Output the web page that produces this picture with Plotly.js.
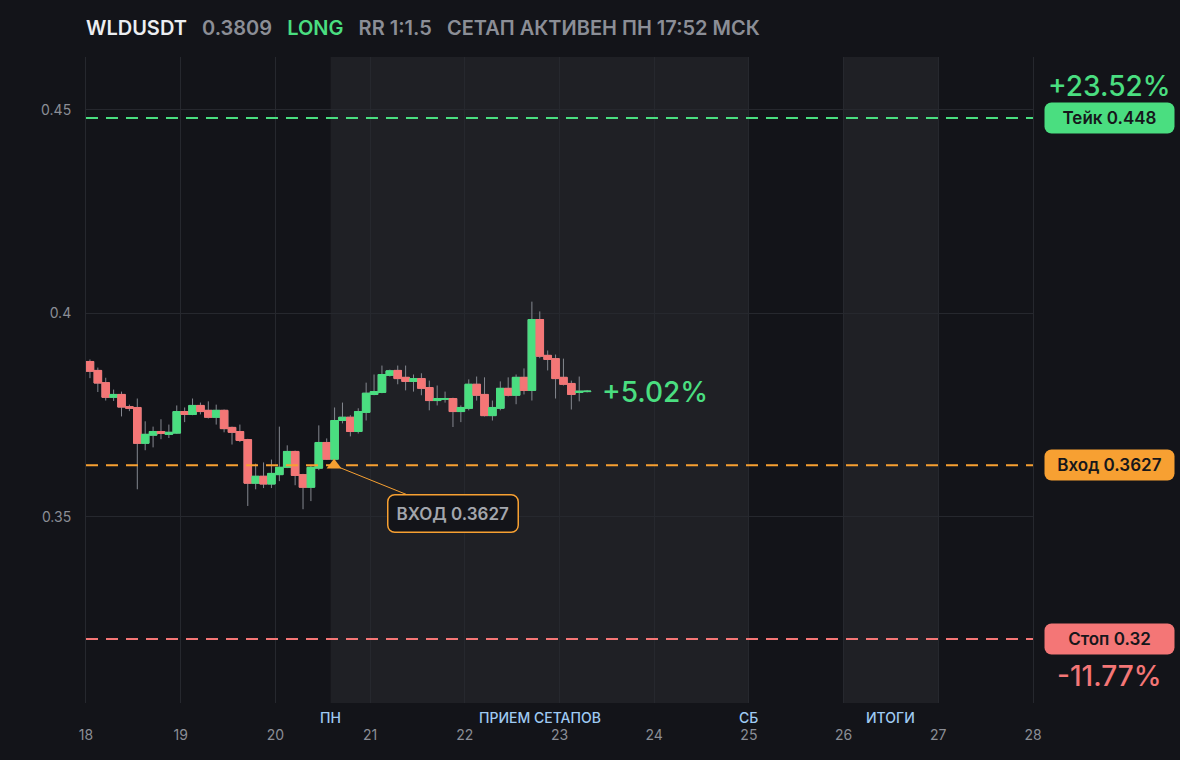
<!DOCTYPE html>
<html>
<head>
<meta charset="utf-8">
<script src="https://cdn.plot.ly/plotly-3.0.1.min.js"></script>
<style>
  html, body { margin: 0; padding: 0; background: #131419; }
  #chart { width: 1180px; height: 760px; }
</style>
</head>
<body>
<div id="chart"></div>
<script>
// ---------- DATA ----------
const symbol = "WLDUSDT";
const lastPrice = 0.3809;
const side = "LONG";
const rr = "RR 1:1.5";
const setupNote = "СЕТАП АКТИВЕН ПН 17:52 МСК";

const candleStart = "2025-10-18T01:00:00Z";   // centre of first 2h candle
const candleStepHours = 2;

const opens = [0.3882,0.3860,0.3830,0.3794,0.3801,0.3771,0.3769,0.3681,0.3701,0.3710,0.3703,0.3706,0.3759,0.3752,0.3774,0.3762,
               0.3745,0.3762,0.3720,0.3710,0.3690,0.3583,0.3600,0.3581,0.3604,0.3622,0.3661,0.3604,0.3573,0.3620,0.3683,0.3642,
               0.3737,0.3745,0.3710,0.3757,0.3801,0.3806,0.3848,0.3860,0.3843,0.3833,0.3840,0.3818,0.3786,0.3789,0.3791,0.3759,
               0.3767,0.3826,0.3801,0.3749,0.3767,0.3816,0.3799,0.3843,0.3811,0.3985,0.3897,0.3889,0.3843,0.3828,0.3806,0.3808];
const highs = [0.3887,0.3867,0.3842,0.3813,0.3808,0.3776,0.3791,0.3735,0.3722,0.3740,0.3727,0.3774,0.3769,0.3791,0.3781,0.3784,
               0.3776,0.3764,0.3722,0.3727,0.3692,0.3631,0.3634,0.3641,0.3722,0.3676,0.3663,0.3606,0.3627,0.3725,0.3693,0.3769,
               0.3781,0.3750,0.3767,0.3830,0.3850,0.3872,0.3862,0.3872,0.3872,0.3850,0.3853,0.3835,0.3823,0.3808,0.3793,0.3774,
               0.3838,0.3845,0.3843,0.3786,0.3833,0.3843,0.3850,0.3865,0.4029,0.4005,0.3909,0.3899,0.3889,0.3835,0.3845,0.3812];
const lows  = [0.3841,0.3807,0.3786,0.3785,0.3747,0.3760,0.3568,0.3664,0.3671,0.3691,0.3694,0.3704,0.3733,0.3750,0.3752,0.3742,
               0.3727,0.3708,0.3678,0.3684,0.3527,0.3568,0.3571,0.3571,0.3588,0.3620,0.3578,0.3519,0.3539,0.3615,0.3640,0.3630,
               0.3730,0.3698,0.3705,0.3737,0.3799,0.3804,0.3845,0.3826,0.3811,0.3808,0.3799,0.3762,0.3774,0.3781,0.3721,0.3733,
               0.3762,0.3786,0.3747,0.3737,0.3762,0.3796,0.3777,0.3801,0.3786,0.3890,0.3860,0.3791,0.3823,0.3764,0.3784,0.3806];
const closes= [0.3858,0.3829,0.3794,0.3801,0.3770,0.3767,0.3681,0.3703,0.3710,0.3705,0.3708,0.3759,0.3752,0.3774,0.3759,0.3745,
               0.3762,0.3717,0.3708,0.3688,0.3583,0.3600,0.3581,0.3607,0.3622,0.3661,0.3602,0.3573,0.3622,0.3683,0.3642,0.3737,
               0.3745,0.3710,0.3759,0.3804,0.3808,0.3850,0.3859,0.3840,0.3833,0.3840,0.3816,0.3786,0.3791,0.3791,0.3759,0.3769,
               0.3826,0.3799,0.3749,0.3769,0.3816,0.3799,0.3843,0.3811,0.3985,0.3895,0.3887,0.3840,0.3826,0.3801,0.3809,0.3809];

const takePrice = 0.448;
const entryPrice = 0.3627;
const stopPrice = 0.32;
const entryTime = "2025-10-20 14:52";

const zoneStarts = ["2025-10-20 14:00", "2025-10-26 00:00"];
const zoneEnds   = ["2025-10-25 00:00", "2025-10-27 00:00"];
const bottomLabels    = ["ПН", "ПРИЕМ СЕТАПОВ", "СБ", "ИТОГИ"];
const bottomLabelTime = ["2025-10-20 14:00", "2025-10-22 19:00", "2025-10-25 00:00", "2025-10-26 12:00"];

const xRange = ["2025-10-18", "2025-10-28"];
const yRange = [0.3043, 0.463];

// ---------- BUILD ----------
const C_BG = "#131419", C_ZONE = "#1f2025", C_GRID = "#26282e";
const C_GREEN = "#4ade80", C_RED = "#f47676", C_ORANGE = "#f7a032", C_GRAY = "#8b8e96", C_WICK = "#84878f";
const FONT = "Inter, 'Noto Sans', sans-serif";

const t0 = Date.parse(candleStart);
const times = opens.map((_, i) => t0 + i * candleStepHours * 3600000);
const bodyHigh = opens.map((o, i) => Math.max(o, closes[i]));
const bodyLow  = opens.map((o, i) => Math.min(o, closes[i]));

const pct = (p) => { const v = (p / entryPrice - 1) * 100; return (v >= 0 ? "+" : "") + v.toFixed(2) + "%"; };

const traces = [
  { // wicks
    type: "candlestick", x: times, open: opens, high: highs, low: lows, close: closes,
    increasing: { line: { color: C_WICK, width: 1 }, fillcolor: C_WICK },
    decreasing: { line: { color: C_WICK, width: 1 }, fillcolor: C_WICK },
    whiskerwidth: 0, hoverinfo: "skip", showlegend: false
  },
  { // bodies
    type: "candlestick", x: times, open: opens, high: bodyHigh, low: bodyLow, close: closes,
    increasing: { line: { color: C_GREEN, width: 1 }, fillcolor: C_GREEN },
    decreasing: { line: { color: C_RED, width: 1 }, fillcolor: C_RED },
    whiskerwidth: 0, hoverinfo: "skip", showlegend: false
  },
  { // entry marker
    type: "scatter", mode: "markers", x: [entryTime], y: [entryPrice],
    marker: { symbol: "triangle-up", size: 13, color: C_ORANGE },
    hoverinfo: "skip", showlegend: false
  }
];

const shapes = [];
zoneStarts.forEach((s, i) => shapes.push({
  type: "rect", xref: "x", yref: "paper", x0: s, x1: zoneEnds[i], y0: 0, y1: 1,
  fillcolor: C_ZONE, line: { width: 0 }, layer: "below"
}));
[[takePrice, C_GREEN], [entryPrice, C_ORANGE], [stopPrice, C_RED]].forEach(([p, c]) => shapes.push({
  type: "line", xref: "paper", yref: "y", x0: 0, x1: 1, y0: p, y1: p,
  line: { color: c, width: 2, dash: "12px,8px" }, layer: "above"
}));

const annotations = [];
bottomLabels.forEach((t, i) => annotations.push({
  text: t, xref: "x", yref: "paper", x: bottomLabelTime[i], y: -0.022, yanchor: "middle", xanchor: "center",
  showarrow: false, font: { family: FONT, size: 14, color: "#9fcbf3", weight: 500 }
}));

const rightX = 1.0813;
const boxLabel = (txt, p, c) => annotations.push({
  text: txt, xref: "paper", yref: "y", x: rightX, y: p, xanchor: "center", yanchor: "middle",
  showarrow: false, bgcolor: c, width: 129, height: 30, borderpad: 0,
  font: { family: FONT, size: 17, color: "#16171b", weight: 600 }
});
boxLabel("Тейк " + takePrice, takePrice, C_GREEN);
boxLabel("Вход " + entryPrice, entryPrice, C_ORANGE);
boxLabel("Стоп " + stopPrice, stopPrice, C_RED);

annotations.push({
  text: pct(takePrice), xref: "paper", yref: "y", x: rightX, y: takePrice, yshift: 32,
  xanchor: "center", yanchor: "middle", showarrow: false,
  font: { family: FONT, size: 28, color: C_GREEN, weight: 500 }
});
annotations.push({
  text: pct(stopPrice), xref: "paper", yref: "y", x: rightX, y: stopPrice, yshift: -37,
  xanchor: "center", yanchor: "middle", showarrow: false,
  font: { family: FONT, size: 28, color: C_RED, weight: 500 }
});
annotations.push({
  text: pct(lastPrice), xref: "x", yref: "y", x: times[times.length - 1], y: closes[closes.length - 1],
  xshift: 13, xanchor: "left", yanchor: "middle", showarrow: false, yshift: -1,
  font: { family: FONT, size: 28, color: C_GREEN, weight: 500 }
});
annotations.push({
  text: "ВХОД " + entryPrice, xref: "x", yref: "y", x: entryTime, y: entryPrice,
  showarrow: true, arrowhead: 0, arrowwidth: 1, arrowcolor: C_ORANGE, ax: 119, ay: 48, standoff: 4,
  bgcolor: C_BG, bordercolor: C_ORANGE, borderwidth: 1.5, borderpad: 8,
  font: { family: FONT, size: 17, color: "#a3a6ad", weight: 600 }
});

const sep = "&nbsp;&nbsp;&nbsp;";
const titleText =
  '<span style="color:#eceef1">' + symbol + '</span>' + sep +
  '<span style="color:' + C_GRAY + '">' + lastPrice + '</span>' + sep +
  '<span style="color:' + C_GREEN + '">' + side + '</span>' + sep +
  '<span style="color:' + C_GRAY + '">' + rr + '</span>' + sep +
  '<span style="color:' + C_GRAY + '">' + setupNote + '</span>';

const layout = {
  width: 1180, height: 760,
  paper_bgcolor: C_BG, plot_bgcolor: C_BG,
  margin: { l: 86, r: 147, t: 57, b: 57 },
  title: { text: titleText, x: 86 / 1180, xanchor: "left", xref: "container", y: 1 - 28 / 760, yanchor: "middle",
           font: { family: FONT, size: 20, color: C_GRAY, weight: 600 } },
  showlegend: false,
  boxgap: 0.04,
  boxgroupgap: 0,
  xaxis: {
    type: "date", range: xRange, dtick: 86400000, tick0: "2025-10-18", tickformat: "%d",
    showgrid: true, gridcolor: C_GRID, gridwidth: 1, zeroline: false, showline: false,
    ticks: "", ticklabelstandoff: 22, tickfont: { family: FONT, size: 14, color: C_GRAY },
    rangeslider: { visible: false }, fixedrange: true
  },
  yaxis: {
    range: yRange, dtick: 0.05, tick0: 0.35, showgrid: true, gridcolor: C_GRID, gridwidth: 1,
    zeroline: false, showline: true, linecolor: C_GRID, linewidth: 1, mirror: true,
    ticks: "", ticklabelstandoff: 11,
    tickfont: { family: FONT, size: 14, color: C_GRAY }, fixedrange: true
  },
  shapes: shapes,
  annotations: annotations,
  hovermode: false
};

Plotly.newPlot("chart", traces, layout, { displayModeBar: false, staticPlot: true }).then(() => {
  document.querySelectorAll("#chart .annotation rect.bg").forEach(r => {
    r.setAttribute("rx", 7); r.setAttribute("ry", 7);
  });
});
</script>
</body>
</html>
